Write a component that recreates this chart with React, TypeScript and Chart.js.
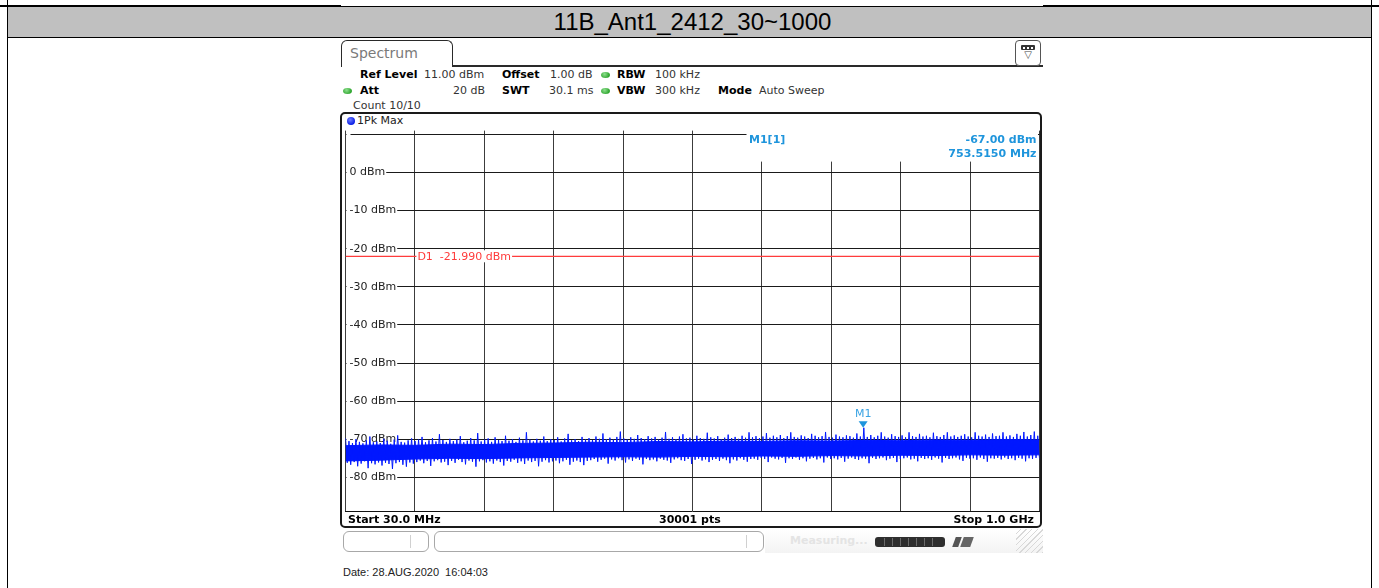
import React, { useEffect, useRef } from "react";
import { Chart, registerables } from "chart.js";

Chart.register(...registerables);

// ---------------- data ----------------
const chartTitle = "11B_Ant1_2412_30~1000";
const startFreqMHz = 30;
const stopFreqMHz = 1000;
const refLevelDbm = 11;
const bottomLevelDbm = -89;
const yTicksDbm = [-80, -70, -60, -50, -40, -30, -20, -10, 0, 10];
const xGridMHz = [30, 127, 224, 321, 418, 515, 612, 709, 806, 903, 1000];
const displayLineDbm = -21.99;
const markerFreqMHz = 753.515;
const markerLevelDbm = -67.0;

// dense (saturated) core of the noise band, every half division
const coreTopDbm = [
  -71.7, -71.5, -71.6, -71.3, -71.4, -71.1, -71.0, -70.8, -70.9, -70.6, -70.7,
  -70.5, -70.6, -70.4, -70.5, -70.3, -70.4, -70.2, -70.3, -70.1, -70.2,
];
const coreBottomDbm = [
  -75.7, -75.5, -75.2, -75.0, -75.1, -74.9, -74.8, -74.7, -74.6, -74.7, -74.5,
  -74.6, -74.4, -74.5, -74.3, -74.4, -74.2, -74.3, -74.1, -74.2, -74.1,
];

// upper edge of the max-hold noise trace, one value per sweep bin
const tracePeakDbm = [
  -69.7, -70.5, -71.0, -70.0, -70.7, -71.1, -70.3, -69.3, -70.8, -70.6,
  -71.0, -69.9, -70.4, -71.2, -70.1, -69.0, -70.7, -70.9, -70.3, -69.8,
  -70.5, -70.1, -69.4, -70.8, -70.3, -69.7, -70.6, -68.7, -70.2, -70.7,
  -69.9, -70.5, -70.1, -69.2, -70.8, -70.4, -69.7, -70.3, -68.4, -70.6,
  -70.1, -69.8, -70.7, -69.5, -70.2, -70.5, -69.1, -70.4, -70.0, -70.7,
  -69.6, -70.3, -68.2, -70.1, -70.6, -69.9, -70.4, -69.3, -70.5, -70.0,
  -70.2, -69.5, -70.6, -69.8, -68.6, -70.3, -70.0, -70.5, -69.4, -70.1,
  -69.7, -70.2, -69.3, -69.9, -68.5, -70.0, -69.6, -70.1, -69.4, -68.0,
  -69.8, -70.1, -69.5, -69.9, -68.9, -69.7, -70.0, -69.2, -69.8, -69.4,
  -70.1, -69.6, -68.1, -69.9, -69.5, -70.0, -69.3, -68.7, -69.8, -69.6,
  -70.0, -69.1, -69.7, -69.9, -68.3, -69.5, -69.8, -69.2, -70.0, -69.6,
  -68.8, -69.7, -69.4, -69.9, -69.1, -69.6, -68.2, -69.5, -69.2, -69.7,
  -69.3, -68.4, -69.6, -69.1, -69.5, -68.9, -69.7, -69.2, -68.2, -69.4,
  -69.6, -69.0, -69.3, -69.7, -68.6, -69.1, -69.5, -69.2, -68.1, -69.4,
  -69.6, -68.8, -69.3, -69.5, -69.0, -69.2, -69.6, -68.5, -69.3, -67.0,
  -69.4, -68.9, -69.5, -69.1, -68.2, -69.3, -69.6, -68.7, -69.2, -69.4,
  -69.0, -69.5, -68.2, -69.2, -69.4, -68.6, -69.3, -69.1, -69.5, -68.3,
  -69.2, -69.4, -68.9, -68.2, -69.3, -69.0, -69.4, -69.1, -68.7, -69.3,
  -69.5, -68.2, -69.1, -69.3, -68.8, -69.4, -68.5, -69.2, -69.1, -68.2,
  -69.3, -69.0, -69.4, -68.6, -69.1, -68.1, -69.3, -68.9, -68.0, -69.1,
];

// lower edge of the noise trace, one value per sweep bin
const traceValleyDbm = [
  -76.2, -76.7, -76.0, -77.1, -76.4, -75.8, -77.6, -76.3, -76.6, -76.1,
  -76.9, -76.2, -76.5, -77.8, -76.3, -76.0, -76.7, -77.2, -76.1, -76.4,
  -76.0, -75.6, -76.3, -75.7, -77.0, -75.8, -75.5, -76.1, -75.9, -76.8,
  -75.7, -76.2, -75.4, -76.0, -76.6, -75.6, -75.9, -77.2, -75.8, -75.5,
  -76.1, -75.8, -76.4, -75.6, -76.0, -76.9, -75.7, -75.9, -75.4, -76.2,
  -75.8, -76.5, -75.6, -76.0, -75.7, -77.1, -75.9, -75.5, -76.1, -75.8,
  -75.6, -76.3, -75.8, -75.4, -76.7, -75.9, -75.6, -76.0, -76.8, -75.7,
  -75.5, -75.2, -75.9, -75.4, -75.1, -76.4, -75.3, -75.6, -75.0, -75.5,
  -76.1, -75.3, -75.7, -75.1, -75.4, -76.6, -75.2, -75.5, -75.3, -75.8,
  -75.1, -75.4, -75.6, -76.2, -75.3, -75.0, -75.5, -75.7, -75.2, -76.5,
  -75.4, -75.1, -75.6, -75.3, -76.0, -75.4, -75.2, -75.7, -75.1, -75.5,
  -76.3, -75.3, -75.6, -75.0, -75.4, -75.9, -75.2, -75.1, -75.4, -74.9,
  -75.2, -76.0, -74.8, -75.1, -75.3, -74.9, -76.2, -75.0, -75.2, -74.8,
  -75.4, -75.0, -75.8, -75.1, -74.9, -75.3, -75.0, -76.1, -74.8, -75.2,
  -75.0, -75.3, -74.9, -75.9, -75.1, -74.8, -75.2, -75.4, -75.0, -75.1,
  -76.3, -74.9, -75.2, -75.0, -74.8, -75.5, -75.1, -74.9, -76.0, -75.2,
  -75.0, -74.8, -75.3, -75.1, -75.8, -74.9, -75.2, -75.0, -75.4, -74.8,
  -75.1, -76.1, -74.9, -75.2, -75.0, -74.8, -75.3, -75.7, -74.9, -75.1,
  -75.0, -75.4, -74.8, -75.2, -75.9, -75.0, -75.1, -74.9, -75.3, -74.8,
  -75.2, -75.0, -75.5, -74.9, -75.1, -75.8, -75.0, -75.2, -74.9, -75.1,
];

// ---------------- styles ----------------
const RS_FONT = '"DejaVu Sans", Verdana, sans-serif';
const MARKER_BLUE = "#1f95dc";
const TRACE_BLUE = "rgb(0,24,255)";

const abs = (o: React.CSSProperties): React.CSSProperties => ({ position: "absolute", ...o });

const noPadding = (s: any) => {
  s.paddingTop = 0;
  s.paddingBottom = 0;
  s.paddingLeft = 0;
  s.paddingRight = 0;
};

const overlayPlugin = {
  id: "rsOverlay",
  beforeDatasetsDraw(chart: any) {
    const { ctx, chartArea: a } = chart;
    ctx.save();
    const boxLeft = a.left + 401;
    ctx.fillStyle = "#fff";
    ctx.fillRect(boxLeft, a.top - 1, a.right - boxLeft - 1.5, 32);
    ctx.fillStyle = MARKER_BLUE;
    ctx.font = `bold 11px ${RS_FONT}`;
    ctx.textBaseline = "middle";
    ctx.textAlign = "left";
    ctx.fillText("M1[1]", boxLeft + 2.5, a.top + 9.5);
    ctx.textAlign = "right";
    ctx.fillText(`${markerLevelDbm.toFixed(2)} dBm`, a.right - 3, a.top + 9.5);
    ctx.fillText(`${markerFreqMHz.toFixed(4)} MHz`, a.right - 3, a.top + 23.5);
    ctx.restore();
  },
  afterDatasetsDraw(chart: any) {
    const { ctx, scales } = chart;
    const x = scales.x;
    const y = scales.y;
    ctx.save();
    ctx.font = `11px ${RS_FONT}`;
    ctx.textBaseline = "middle";
    // display line label
    const dy = y.getPixelForValue(displayLineDbm);
    const dx = x.getPixelForValue(xGridMHz[1]) + 1.5;
    const label = `D1  ${displayLineDbm.toFixed(3)} dBm`;
    const w = ctx.measureText(label).width;
    ctx.fillStyle = "#fff";
    ctx.fillRect(dx, dy - 6, w + 2, 12);
    ctx.fillStyle = "#ff3b3b";
    ctx.textAlign = "left";
    ctx.fillText(label, dx + 1, dy + 0.5);
    // marker M1
    const mx = x.getPixelForValue(markerFreqMHz);
    const my = y.getPixelForValue(markerLevelDbm);
    ctx.fillStyle = MARKER_BLUE;
    ctx.beginPath();
    ctx.moveTo(mx, my);
    ctx.lineTo(mx - 4.5, my - 6.5);
    ctx.lineTo(mx + 4.5, my - 6.5);
    ctx.closePath();
    ctx.fill();
    ctx.fillStyle = "#3aa3e3";
    ctx.textAlign = "center";
    ctx.fillText("M1", mx, my - 13.5);
    ctx.restore();
  },
};

function SpectrumChart() {
  const ref = useRef<HTMLCanvasElement>(null);
  useEffect(() => {
    const canvas = ref.current;
    if (!canvas) return;
    const span = stopFreqMHz - startFreqMHz;
    const n = tracePeakDbm.length;
    const pts: { x: number; y: number }[] = [];
    for (let i = 0; i < n; i++) {
      pts.push({ x: startFreqMHz + (2 * i * span) / (2 * n - 1), y: tracePeakDbm[i] });
      pts.push({ x: startFreqMHz + ((2 * i + 1) * span) / (2 * n - 1), y: traceValleyDbm[i] });
    }
    const m = coreTopDbm.length;
    const coreTop = coreTopDbm.map((v, i) => ({ x: startFreqMHz + (i * span) / (m - 1), y: v }));
    const coreBottom = coreBottomDbm.map((v, i) => ({ x: startFreqMHz + (i * span) / (m - 1), y: v }));
    const chart = new Chart(canvas, {
      type: "line",
      data: {
        datasets: [
          {
            label: "1Pk Max",
            data: pts,
            borderColor: TRACE_BLUE,
            borderWidth: 1,
            pointRadius: 0,
            tension: 0,
            fill: false,
          },
          {
            label: "core top",
            data: coreTop,
            borderColor: TRACE_BLUE,
            backgroundColor: TRACE_BLUE,
            borderWidth: 1,
            pointRadius: 0,
            tension: 0,
            fill: "+1",
          },
          {
            label: "core bottom",
            data: coreBottom,
            borderColor: TRACE_BLUE,
            borderWidth: 1,
            pointRadius: 0,
            tension: 0,
            fill: false,
          },
          {
            label: "D1",
            data: [
              { x: startFreqMHz, y: displayLineDbm },
              { x: stopFreqMHz, y: displayLineDbm },
            ],
            borderColor: "#ff3c3c",
            borderWidth: 1.2,
            pointRadius: 0,
            fill: false,
          },
        ],
      },
      options: {
        animation: false,
        responsive: false,
        maintainAspectRatio: false,
        events: [],
        layout: { padding: { left: 7.5, right: 6.5, top: 6.6, bottom: 6.4 } },
        plugins: {
          legend: { display: false },
          tooltip: { enabled: false },
          title: { display: false },
        },
        scales: {
          x: {
            type: "linear",
            min: startFreqMHz,
            max: stopFreqMHz,
            afterBuildTicks: (s: any) => {
              s.ticks = xGridMHz.map((v) => ({ value: v }));
            },
            afterFit: (s: any) => {
              s.height = 0;
              noPadding(s);
            },
            ticks: { display: false },
            grid: { color: "#3c3c3c", lineWidth: 1, drawTicks: false },
            border: { display: true, color: "#111", width: 1 },
          },
          y: {
            type: "linear",
            min: bottomLevelDbm,
            max: refLevelDbm,
            afterBuildTicks: (s: any) => {
              s.ticks = yTicksDbm.map((v) => ({ value: v }));
            },
            afterFit: (s: any) => {
              s.width = 0;
              noPadding(s);
            },
            grid: { color: "#1a1a1a", lineWidth: 1, drawTicks: false },
            border: { display: false },
            ticks: {
              mirror: true,
              padding: 4,
              color: "#222",
              font: { family: RS_FONT, size: 11 },
              callback: (v: any) => (v === 10 ? "" : `${v} dBm`),
              showLabelBackdrop: true,
              backdropColor: "#fff",
              backdropPadding: { left: 3, right: 1, top: 0, bottom: 0 },
            },
          },
        },
      } as any,
      plugins: [overlayPlugin],
    });
    return () => chart.destroy();
  }, []);
  return (
    <canvas
      ref={ref}
      width={708}
      height={394}
      style={abs({ left: 338, top: 124, width: 708, height: 394 })}
    />
  );
}

function GreenDot({ left, top }: { left: number; top: number }) {
  return (
    <div
      style={abs({
        left,
        top,
        width: 9,
        height: 6,
        borderRadius: "50%",
        background: "radial-gradient(circle at 40% 35%, #8fe08f, #2ea52e 70%)",
      })}
    />
  );
}

const lbl = (left: number, top: number, text: string, bold = false, extra: React.CSSProperties = {}) => (
  <div
    style={abs({
      left,
      top,
      fontFamily: RS_FONT,
      fontSize: 11,
      lineHeight: "12px",
      fontWeight: bold ? "bold" : "normal",
      color: bold ? "#000" : "#333",
      whiteSpace: "pre",
      ...extra,
    })}
  >
    {text}
  </div>
);

export default function App() {
  return (
    <div
      style={{
        position: "fixed",
        left: 0,
        top: 0,
        width: 1379,
        height: 588,
        background: "#fff",
        overflow: "hidden",
        fontFamily: RS_FONT,
      }}
    >
      {/* table borders */}
      <div style={abs({ left: 0, top: 6, width: 1379, height: 1, background: "#000" })} />
      <div style={abs({ left: 0, top: 5, width: 341, height: 1, background: "#000" })} />
      <div style={abs({ left: 1043, top: 5, width: 336, height: 1, background: "#000" })} />
      <div style={abs({ left: 7, top: 0, width: 1, height: 588, background: "#000" })} />
      <div style={abs({ left: 1371, top: 0, width: 1, height: 588, background: "#000" })} />
      <div style={abs({ left: 8, top: 7, width: 1363, height: 30, background: "#c0c0c0" })} />
      <div style={abs({ left: 7, top: 37, width: 1365, height: 1, background: "#000" })} />
      <div
        style={abs({
          left: 8,
          top: 7,
          width: 1369,
          height: 30,
          lineHeight: "30px",
          textAlign: "center",
          fontFamily: '"Liberation Sans", Arial, sans-serif',
          fontSize: 24,
          color: "#000",
        })}
      >
        {chartTitle}
      </div>

      {/* Spectrum tab */}
      <div
        style={abs({
          left: 341,
          top: 40,
          width: 112,
          height: 27,
          border: "1.5px solid #2a2a2a",
          borderBottom: "none",
          borderRadius: "6px 6px 0 0",
          boxSizing: "border-box",
          background: "#fff",
        })}
      />
      {lbl(350, 45, "Spectrum", false, { fontSize: 14, lineHeight: "16px", color: "#7a7a7a" })}
      <div style={abs({ left: 453, top: 65, width: 590, height: 1.5, background: "#2a2a2a" })} />
      {/* top-right icon */}
      <div
        style={abs({
          left: 1015,
          top: 40,
          width: 26,
          height: 26,
          border: "1px solid #555",
          borderRadius: 4,
          boxSizing: "border-box",
          background: "#fff",
        })}
      />
      <div style={abs({ left: 1021, top: 45, width: 14, height: 5, background: "#333", borderRadius: 1 })} />
      {[1023, 1027, 1031].map((x) => (
        <div key={x} style={abs({ left: x, top: 46.5, width: 2, height: 2, background: "#fff" })} />
      ))}
      <div style={abs({ left: 1015, top: 49, width: 26, textAlign: "center", fontSize: 10, lineHeight: "12px", color: "#444" })}>
        ▽
      </div>

      {/* settings rows */}
      {lbl(360, 68.5, "Ref Level", true)}
      {lbl(424, 68.5, "11.00 dBm")}
      {lbl(502, 68.5, "Offset", true)}
      {lbl(550, 68.5, "1.00 dB")}
      <GreenDot left={601} top={71.5} />
      {lbl(617, 68.5, "RBW", true)}
      {lbl(655, 68.5, "100 kHz")}

      <GreenDot left={343} top={87.5} />
      {lbl(360, 84.5, "Att", true)}
      {lbl(440, 84.5, "20 dB", false, { width: 45, textAlign: "right" })}
      {lbl(502, 84.5, "SWT", true)}
      {lbl(549, 84.5, "30.1 ms")}
      <GreenDot left={601} top={87.5} />
      {lbl(617, 84.5, "VBW", true)}
      {lbl(655, 84.5, "300 kHz")}
      {lbl(718, 84.5, "Mode", true)}
      {lbl(759, 84.5, "Auto Sweep")}

      {lbl(353, 99.5, "Count 10/10")}

      {/* diagram frame */}
      <div
        style={abs({
          left: 340,
          top: 112,
          width: 702,
          height: 416,
          border: "2px solid #1a1a1a",
          borderRadius: 5,
          boxSizing: "border-box",
          background: "#fff",
        })}
      />
      <div
        style={abs({
          left: 347,
          top: 117,
          width: 8,
          height: 8,
          borderRadius: "50%",
          background: "radial-gradient(circle at 40% 35%, #6f7dff, #0a1ee6 70%)",
        })}
      />
      {lbl(357, 115, "1Pk Max", false, { color: "#222" })}

      <SpectrumChart />

      {lbl(348, 514, "Start 30.0 MHz", true)}
      {lbl(659, 514, "30001 pts", true)}
      {lbl(900, 514, "Stop 1.0 GHz", true, { width: 134, textAlign: "right" })}

      {/* status bar */}
      <div
        style={abs({
          left: 343,
          top: 531,
          width: 86,
          height: 21,
          border: "1px solid #a8a8a8",
          borderRadius: 6,
          boxSizing: "border-box",
        })}
      />
      <div style={abs({ left: 410, top: 535, width: 1, height: 13, background: "#d0d0d0" })} />
      <div
        style={abs({
          left: 434,
          top: 531,
          width: 330,
          height: 21,
          border: "1px solid #a8a8a8",
          borderRadius: 6,
          boxSizing: "border-box",
        })}
      />
      <div style={abs({ left: 746, top: 535, width: 1, height: 13, background: "#d0d0d0" })} />
      <div
        style={abs({
          left: 765,
          top: 529,
          width: 278,
          height: 24,
          background: "linear-gradient(#ffffff, #f3f3f3)",
        })}
      />
      {lbl(790, 535, "Measuring...", true, { color: "#e4e4e4" })}
      <div style={abs({ left: 875, top: 537, width: 70, height: 10, background: "#2e2e2e", borderRadius: 3 })} />
      {[884, 892, 900, 908, 916, 924, 932].map((x) => (
        <div key={x} style={abs({ left: x, top: 538, width: 1, height: 8, background: "#6a6a6a" })} />
      ))}
      <div style={abs({ left: 954, top: 537, width: 6, height: 10, background: "#555", transform: "skewX(-20deg)" })} />
      <div style={abs({ left: 962, top: 537, width: 10, height: 10, background: "#666", transform: "skewX(-20deg)" })} />
      <div
        style={abs({
          left: 1016,
          top: 529,
          width: 27,
          height: 24,
          background: "repeating-linear-gradient(135deg, transparent 0px, transparent 3px, #d8d8d8 3px, #d8d8d8 4px)",
        })}
      />

      {/* date */}
      <div
        style={abs({
          left: 343,
          top: 566,
          fontFamily: '"Liberation Sans", Arial, sans-serif',
          fontSize: 11,
          lineHeight: "13px",
          color: "#222",
          whiteSpace: "pre",
        })}
      >
        {"Date: 28.AUG.2020  16:04:03"}
      </div>
    </div>
  );
}
